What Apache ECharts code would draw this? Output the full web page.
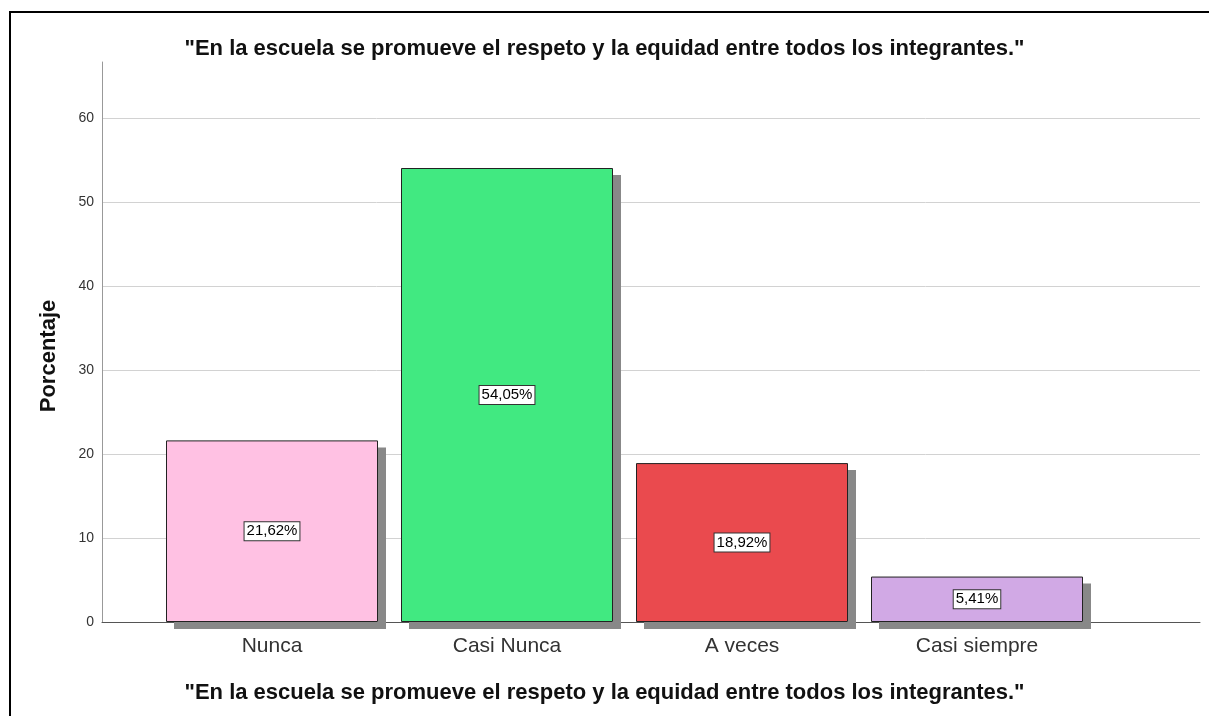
<!DOCTYPE html>
<html>
<head>
<meta charset="utf-8">
<script src="https://cdn.jsdelivr.net/npm/echarts@6/dist/echarts.min.js"></script>
<style>
  html, body { margin: 0; padding: 0; background: #fff; }
  #chart { width: 1209px; height: 716px; }
</style>
</head>
<body>
<div id="chart"></div>
<script>
// categorias y porcentajes
var categorias = ['Nunca', 'Casi Nunca', 'A veces', 'Casi siempre'];
var porcentajes = [21.62, 54.05, 18.92, 5.41];
var colores = ['#FFC1E3', '#41E981', '#EA4A4E', '#D1A9E5'];
var tituloTexto = '"En la escuela se promueve el respeto y la equidad entre todos los integrantes."';
var ejeYNombre = 'Porcentaje';

var fuente = 'Arial, "Liberation Sans", sans-serif';
var chart = echarts.init(document.getElementById('chart'));

var option = {
  backgroundColor: '#fff',
  animation: false,
  title: [
    {
      text: tituloTexto, left: 'center', top: 33,
      textStyle: { fontFamily: fuente, fontSize: 22, fontWeight: 'bold', color: '#111' }
    },
    {
      text: tituloTexto, left: 'center', top: 677,
      textStyle: { fontFamily: fuente, fontSize: 22, fontWeight: 'bold', color: '#111' }
    }
  ],
  graphic: [{
    type: 'rect',
    shape: { x: 10, y: 12, width: 1230, height: 740 },
    style: { fill: 'none', stroke: '#000', lineWidth: 2 },
    silent: true
  }],
  grid: [
    { left: 102, right: 9, top: 62, bottom: 94 },
    { left: 154.5, width: 940, top: 62, bottom: 94 }
  ],
  xAxis: [
    {
      gridIndex: 0, type: 'value', min: 0, max: 1,
      axisLine: { show: true, onZero: false, lineStyle: { color: '#555', width: 1 } },
      axisTick: { show: false }, axisLabel: { show: false }, splitLine: { show: false }
    },
    {
      gridIndex: 1, type: 'category', data: categorias,
      axisLine: { show: false }, axisTick: { show: false },
      axisLabel: { fontFamily: fuente, fontSize: 21, color: '#333', margin: 14 }
    }
  ],
  yAxis: [
    {
      gridIndex: 0, type: 'value', min: 0, max: 66.67, interval: 10,
      name: ejeYNombre, nameLocation: 'middle', nameRotate: 90, nameGap: 42,
      nameTextStyle: {
        fontFamily: fuente, fontSize: 22, fontWeight: 'bold', color: '#111',
        padding: [0, 28, 0, 0]
      },
      axisLine: { show: true, lineStyle: { color: '#999', width: 1 } },
      axisTick: { show: false },
      axisLabel: {
        fontFamily: fuente, fontSize: 14, color: '#333', margin: 8,
        showMaxLabel: false
      },
      splitLine: { show: true, showMaxLine: false, lineStyle: { color: '#d2d2d2', width: 1 } }
    },
    {
      gridIndex: 1, type: 'value', min: 0, max: 66.67, show: false,
      splitLine: { show: false }
    }
  ],
  series: [
    {
      // sombra gris detras de cada barra
      name: 'sombra',
      type: 'bar',
      xAxisIndex: 1, yAxisIndex: 1,
      barWidth: 212,
      barGap: '-100%',
      silent: true,
      data: porcentajes,
      itemStyle: {
        color: '#ffffff',
        shadowColor: '#888', shadowBlur: 0, shadowOffsetX: 8, shadowOffsetY: 7
      }
    },
    {
      name: 'Porcentaje',
      type: 'bar',
      xAxisIndex: 1, yAxisIndex: 1,
      barWidth: 212,
      barGap: '-100%',
      data: porcentajes.map(function (v, i) {
        return { value: v, itemStyle: { color: colores[i] } };
      }),
      itemStyle: { borderColor: '#222', borderWidth: 1 },
      label: {
        show: true, position: 'inside',
        formatter: function (p) { return p.value.toFixed(2).replace('.', ',') + '%'; },
        fontFamily: fuente, fontSize: 15, color: '#000',
        backgroundColor: '#fff', borderColor: '#333', borderWidth: 1,
        padding: [2, 2, 1, 2]
      }
    }
  ]
};

chart.setOption(option);
</script>
</body>
</html>
